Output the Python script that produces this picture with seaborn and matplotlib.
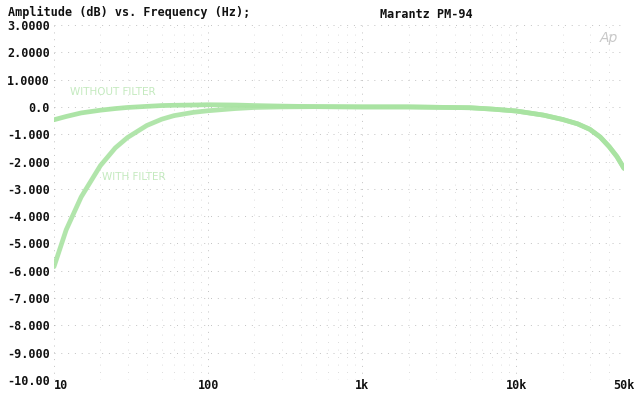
import matplotlib
matplotlib.use("Agg")
import matplotlib.pyplot as plt
import seaborn as sns
import pandas as pd
import numpy as np
from matplotlib.ticker import FixedLocator, NullFormatter, LogLocator

freq = [10, 12, 15, 20, 25, 30, 40, 50, 60, 80, 100, 150, 200, 300, 500,
        1000, 2000, 5000, 7000, 10000, 15000, 20000, 25000, 30000, 35000, 40000, 45000, 50000]
db_without_filter = [-0.47, -0.35, -0.22, -0.12, -0.06, -0.02, 0.02, 0.05, 0.06, 0.07, 0.08,
                     0.07, 0.05, 0.03, 0.01, 0.0, 0.0, -0.03, -0.08, -0.15, -0.3, -0.46,
                     -0.62, -0.82, -1.1, -1.45, -1.82, -2.25]
db_with_filter = [-5.85, -4.5, -3.3, -2.15, -1.5, -1.12, -0.68, -0.45, -0.32, -0.2, -0.14,
                  -0.06, -0.02, 0.0, 0.01, 0.0, 0.0, -0.03, -0.08, -0.15, -0.3, -0.46,
                  -0.62, -0.82, -1.1, -1.45, -1.82, -2.25]
x_ticks = [10, 100, 1000, 10000, 50000]
x_labels = ["10", "100", "1k", "10k", "50k"]
y_ticks = [3, 2, 1, 0, -1, -2, -3, -4, -5, -6, -7, -8, -9, -10]
y_labels = ["3.0000", "2.0000", "1.0000", "0.0", "-1.000", "-2.000", "-3.000", "-4.000",
            "-5.000", "-6.000", "-7.000", "-8.000", "-9.000", "-10.00"]

df = pd.DataFrame({
    "freq": freq * 2,
    "db": db_without_filter + db_with_filter,
    "curve": ["WITHOUT FILTER"] * len(freq) + ["WITH FILTER"] * len(freq),
})

sns.set_style("white")
plt.rcParams["font.family"] = ["DejaVu Sans Mono"]

fig = plt.figure(figsize=(6.39, 3.93), dpi=100)
ax = fig.add_axes([54 / 639, 1 - 380 / 393, (624 - 54) / 639, (380 - 25) / 393])

sns.lineplot(data=df, x="freq", y="db", hue="curve",
             palette={"WITHOUT FILTER": "#a3e29c", "WITH FILTER": "#a9e3a2"},
             linewidth=3.4, legend=False, ax=ax, alpha=0.9)

ax.set_xscale("log")
ax.set_xlim(10, 50000)
ax.set_ylim(-10, 3)

ax.xaxis.set_major_locator(FixedLocator(x_ticks))
ax.set_xticklabels(x_labels)
ax.xaxis.set_minor_locator(LogLocator(base=10, subs=np.arange(2, 10)))
ax.xaxis.set_minor_formatter(NullFormatter())
ax.set_yticks(y_ticks)
ax.set_yticklabels(y_labels)

for lab in ax.get_xticklabels() + ax.get_yticklabels():
    lab.set_fontweight("bold")
    lab.set_fontsize(8.5)
    lab.set_color("#111111")

xl = ax.get_xticklabels()
xl[0].set_horizontalalignment("left")
xl[-1].set_horizontalalignment("center")

ax.tick_params(axis="x", which="both", length=0, pad=-1)
ax.tick_params(axis="y", which="both", length=0, pad=3)

ax.grid(True, which="major", axis="both", color="#9a9a9a", linestyle=(0, (1, 6)), linewidth=0.7, alpha=0.6)
ax.grid(True, which="minor", axis="x", color="#9a9a9a", linestyle=(0, (1, 8)), linewidth=0.6, alpha=0.45)
ax.set_axisbelow(True)

for s in ax.spines.values():
    s.set_visible(False)

ax.set_xlabel("")
ax.set_ylabel("")

fig.text(8 / 639, 1 - 12 / 393, "Amplitude (dB) vs. Frequency (Hz);", fontsize=8.5,
         fontweight="bold", va="center", ha="left", color="#111111")
fig.text(380 / 639, 1 - 14 / 393, "Marantz PM-94", fontsize=8.5,
         fontweight="bold", va="center", ha="left", color="#111111")
fig.text(600 / 639, 1 - 38 / 393, "Ap", fontsize=10, style="italic", color="#c8c8c8",
         va="center", ha="left", family="DejaVu Sans")

ax.text(24, 0.55, "WITHOUT FILTER", fontsize=7.5, color="#c4eabf", ha="center", va="center",
        family="DejaVu Sans")
ax.text(33, -2.55, "WITH FILTER", fontsize=7.5, color="#c4eabf", ha="center", va="center",
        family="DejaVu Sans")

fig.savefig("out.png", dpi=100, facecolor="white")
